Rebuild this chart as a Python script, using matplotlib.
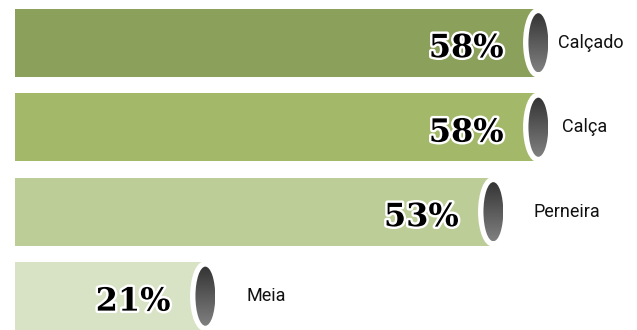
import numpy as np
import matplotlib
matplotlib.use("Agg")
import matplotlib.pyplot as plt
from matplotlib.patches import Ellipse, Rectangle
from matplotlib.colors import LinearSegmentedColormap
import matplotlib.patheffects as pe

# Dados do gráfico
categorias = ["Calçado", "Calça", "Perneira", "Meia"]
valores = [58, 58, 53, 21]
cores = ["#8ba05a", "#a3b969", "#bdcd98", "#d8e2c4"]

# deslocamento dos rótulos à direita da tampa (unidades do eixo)
desloc = [2.3, 2.8, 4.6, 4.7]

# Figura ocupando toda a área
fig = plt.figure(figsize=(6.37, 3.30), dpi=100)
ax = fig.add_axes([15 / 637, 0, 622 / 637, 1])
ax.axis("off")

altura = 0.8
larg_branca = 3.1   # largura da elipse branca (em unidades de dados)
larg_escura = 2.2
alt_escura = 0.70

# gradiente vertical (escuro em cima, claro embaixo)
cmap_cil = LinearSegmentedColormap.from_list("cil", ["#333333", "#5a5a5a", "#808080"])
grad = np.linspace(0, 1, 256).reshape(-1, 1)

for i, (cat, v, cor) in enumerate(zip(categorias, valores, cores)):
    # corpo da barra
    ax.add_patch(Rectangle((0, i - altura / 2), v, altura, facecolor=cor,
                           edgecolor="none", zorder=1))
    # tampa branca do cilindro
    ax.add_patch(Ellipse((v, i), larg_branca, altura + 0.02, facecolor="white",
                         edgecolor="none", zorder=2))
    # elipse escura com gradiente
    cx = v + 0.15
    el = Ellipse((cx, i), larg_escura, alt_escura, facecolor="none",
                 edgecolor="none", zorder=3)
    ax.add_patch(el)
    im = ax.imshow(grad, cmap=cmap_cil, aspect="auto",
                   extent=(cx - larg_escura / 2, cx + larg_escura / 2,
                           i + alt_escura / 2, i - alt_escura / 2),
                   zorder=3, interpolation="bilinear")
    im.set_clip_path(el)

    # percentual
    ax.text(v - 3.7, i + 0.07, f"{v}%", ha="right", va="center",
            fontsize=23, fontweight="bold", family="DejaVu Serif", color="black",
            path_effects=[pe.withStroke(linewidth=3.5, foreground="white")],
            zorder=4)
    # rótulo da categoria
    ax.text(v + desloc[i], i, cat, ha="left", va="center", fontsize=13,
            family="Roboto", color="#111111", zorder=4)

ax.set_xlim(0, 622 / 9.0)
ax.set_ylim(3.4, -0.506)

fig.savefig("out.png", dpi=100)
